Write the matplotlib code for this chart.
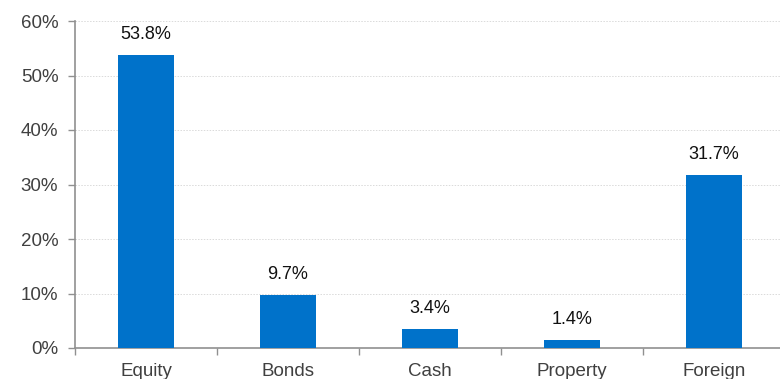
import numpy as np
import matplotlib.pyplot as plt
from matplotlib.ticker import FixedLocator, PercentFormatter

categories = ['Equity', 'Bonds', 'Cash', 'Property', 'Foreign']
shares = [53.8, 9.7, 3.4, 1.4, 31.7]
value_labels = ['53.8%', '9.7%', '3.4%', '1.4%', '31.7%']

plt.rcParams['font.family'] = ['Liberation Sans', 'DejaVu Sans']

fig = plt.figure(figsize=(7.8, 3.79), dpi=100)
ax = fig.add_axes([75/780, 31/379, 710/780, 327/379])

x = np.arange(len(categories))
bars = ax.bar(x, shares, width=0.4, color='#0072CA', zorder=3)

for rect, txt in zip(bars, value_labels):
    ax.annotate(txt, (rect.get_x() + rect.get_width()/2, rect.get_height()),
                xytext=(0, 11.5), textcoords='offset points',
                ha='center', va='baseline', fontsize=13, color='#111111')

ax.set_xlim(-0.5, len(categories) - 0.5)
ax.set_ylim(0, 60)
ax.set_yticks(np.arange(0, 61, 10))
ax.yaxis.set_major_formatter(PercentFormatter(decimals=0))

ax.set_xticks(x)
ax.set_xticklabels(categories)
ax.xaxis.set_minor_locator(FixedLocator(np.arange(-0.5, len(categories), 1)))

ax.tick_params(axis='x', which='major', length=0, pad=10.5, labelsize=13.5, labelcolor='#404040')
ax.tick_params(axis='x', which='minor', length=5, width=1, color='#909090', direction='out')
ax.tick_params(axis='y', length=5, width=1, color='#909090', pad=7, labelsize=13.5, labelcolor='#404040')

ax.grid(axis='y', linestyle=(0, (1.5, 1.5)), color='#dadada', linewidth=0.7, zorder=0)

for side in ['top', 'right']:
    ax.spines[side].set_visible(False)
for side in ['left', 'bottom']:
    ax.spines[side].set_color('#909090')
    ax.spines[side].set_linewidth(1.2)

fig.savefig('out.png', dpi=100)
